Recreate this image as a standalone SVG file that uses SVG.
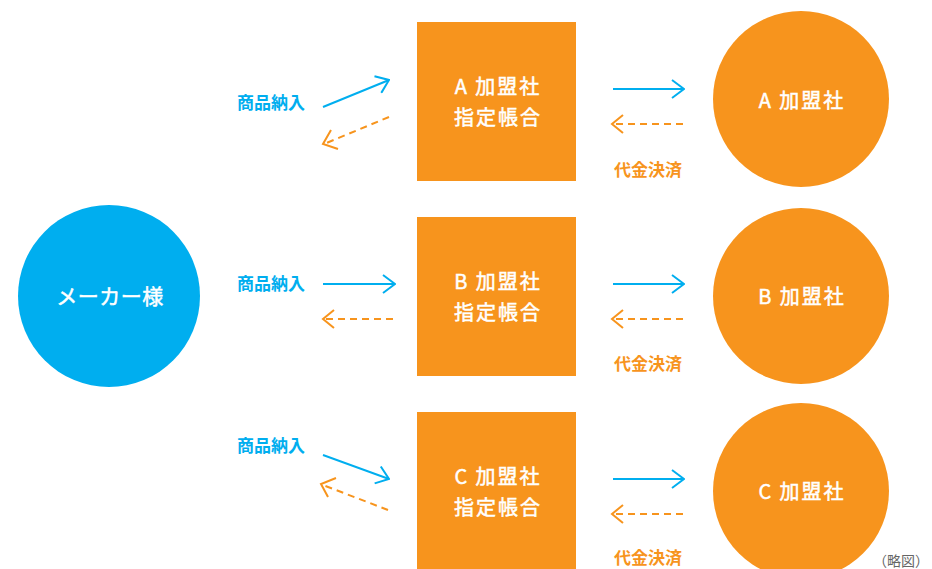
<svg xmlns="http://www.w3.org/2000/svg" width="932" height="569" viewBox="0 0 932 569">
<defs>
<style>
.bl{fill:#00AEEF}
.or{fill:#F7941D}
.t{font-family:"Noto Sans CJK JP","Liberation Sans",sans-serif;fill:#fff;stroke:#fff;stroke-width:0.5;text-anchor:middle;font-weight:normal}
.bx{font-size:20px;letter-spacing:2px}
.ci{font-size:20px;letter-spacing:2px}
.mk{font-size:21px;letter-spacing:0.5px}
.lb{font-family:"Noto Sans CJK JP",sans-serif;font-size:17px;font-weight:bold}
.sb{stroke:#00AEEF;stroke-width:2;fill:none}
.so{stroke:#F7941D;stroke-width:2;fill:none;stroke-dasharray:7 5}
.ho{stroke:#F7941D;stroke-width:2;fill:none}
</style>
<marker id="ab" viewBox="0 0 14 20" refX="13" refY="10" markerWidth="14" markerHeight="20" markerUnits="userSpaceOnUse" orient="auto">
<path d="M1,1 L13,10 L1,19" fill="none" stroke="#00AEEF" stroke-width="2"/>
</marker>
</defs>
<rect width="932" height="569" fill="#fff"/>

<g id="maker">
<circle class="bl" cx="109" cy="296" r="91"/>
<text class="t mk" x="110" y="304">メーカー様</text>
</g>

<g id="boxA">
<rect class="or" x="417" y="22" width="159" height="159"/>
<text class="t bx" x="498" y="94">A 加盟社</text>
<text class="t bx" x="498" y="125">指定帳合</text>
</g>
<g id="boxB">
<rect class="or" x="417" y="217" width="159" height="159"/>
<text class="t bx" x="498" y="289">B 加盟社</text>
<text class="t bx" x="498" y="320">指定帳合</text>
</g>
<g id="boxC">
<rect class="or" x="417" y="412" width="159" height="159"/>
<text class="t bx" x="498" y="484">C 加盟社</text>
<text class="t bx" x="498" y="515">指定帳合</text>
</g>

<g id="circleA">
<circle class="or" cx="801" cy="99" r="88"/>
<text class="t ci" x="802" y="108">A 加盟社</text>
</g>
<g id="circleB">
<circle class="or" cx="801" cy="296" r="88"/>
<text class="t ci" x="802" y="304">B 加盟社</text>
</g>
<g id="circleC">
<circle class="or" cx="801" cy="491" r="88"/>
<text class="t ci" x="802" y="499">C 加盟社</text>
</g>

<g id="connectors">
<line class="sb" x1="323" y1="107" x2="389" y2="80" marker-end="url(#ab)"/>
<line class="so" x1="389" y1="117" x2="324" y2="144"/>
<path class="ho" d="M331,130 L323,144 L338,149"/>
<line class="sb" x1="323" y1="284" x2="395" y2="284" marker-end="url(#ab)"/>
<line class="so" x1="393" y1="319" x2="324" y2="319"/>
<path class="ho" d="M334,310 L323,319 L334,328"/>
<line class="sb" x1="323" y1="455" x2="389" y2="479" marker-end="url(#ab)"/>
<line class="so" x1="388" y1="510" x2="323" y2="485"/>
<path class="ho" d="M336,478 L321,484 L328,497"/>

<line class="sb" x1="613" y1="89" x2="684" y2="89" marker-end="url(#ab)"/>
<line class="so" x1="683" y1="124" x2="614" y2="124"/>
<path class="ho" d="M623,115 L612,124 L623,133"/>
<line class="sb" x1="613" y1="284" x2="684" y2="284" marker-end="url(#ab)"/>
<line class="so" x1="683" y1="319" x2="614" y2="319"/>
<path class="ho" d="M623,310 L612,319 L623,328"/>
<line class="sb" x1="613" y1="479" x2="684" y2="479" marker-end="url(#ab)"/>
<line class="so" x1="683" y1="514" x2="614" y2="514"/>
<path class="ho" d="M623,505 L612,514 L623,523"/>
</g>

<g id="labels">
<text class="lb" x="237" y="109" fill="#00AEEF">商品納入</text>
<text class="lb" x="237" y="290" fill="#00AEEF">商品納入</text>
<text class="lb" x="237" y="452" fill="#00AEEF">商品納入</text>
<text class="lb" x="614" y="176" fill="#F7941D">代金決済</text>
<text class="lb" x="614" y="370" fill="#F7941D">代金決済</text>
<text class="lb" x="614" y="564" fill="#F7941D">代金決済</text>
<text x="873" y="566" font-family="Noto Sans CJK JP,sans-serif" font-size="14" fill="#666">（略図）</text>
</g>
</svg>
